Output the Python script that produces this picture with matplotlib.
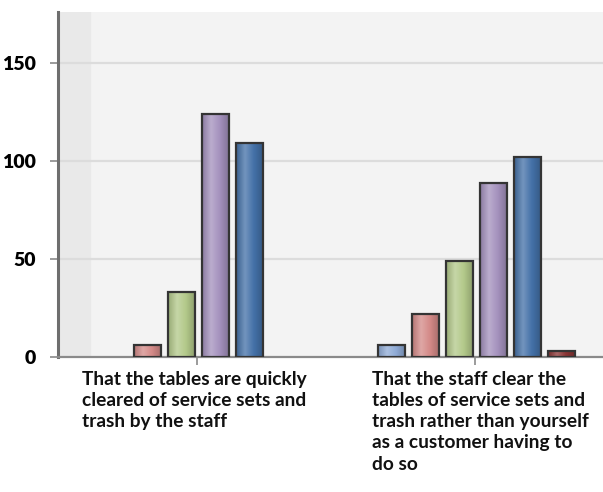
import matplotlib
matplotlib.use("Agg")
import matplotlib.pyplot as plt
import numpy as np
from matplotlib.colors import LinearSegmentedColormap, to_rgb

categories = [
    "That the tables are quickly\ncleared of service sets and\ntrash by the staff",
    "That the staff clear the\ntables of service sets and\ntrash rather than yourself\nas a customer having to\ndo so",
]
series_names = ["S1", "S2", "S3", "S4", "S5", "S6"]
series_values = [
    [0, 6],      # light blue
    [6, 22],     # red
    [33, 49],    # green
    [124, 89],   # purple
    [109, 102],  # dark blue
    [0, 3],      # dark red
]
series_colors = ["#8fabd6", "#d48a88", "#b3c98a", "#a491bd", "#4471a8", "#8a3434"]
yticks = [0, 50, 100, 150]

plt.rcParams['font.family'] = ['Lato', 'DejaVu Sans']

fig = plt.figure(figsize=(6.03, 4.92), dpi=100)
ax = fig.add_axes([58/603, (492-357)/492, 556/603, (357-12)/492])

ax.set_facecolor("#f3f3f3")
ax.axvspan(-0.5, -0.385, color="#e9e9e9", zorder=0)

for y in yticks[1:]:
    ax.axhline(y, color="#dcdcdc", lw=1.6, zorder=1)

n = len(series_values)
pitch = 0.122
width = 0.097
x = np.arange(len(categories))

def lighten(c, f):
    r = np.array(to_rgb(c))
    return tuple(r + (1 - r) * f)

def darken(c, f):
    r = np.array(to_rgb(c))
    return tuple(r * (1 - f))

for i, (vals, col) in enumerate(zip(series_values, series_colors)):
    pos = x + (i - (n - 1) / 2) * pitch + 0.005
    bars = ax.bar(pos, vals, width=width, color=col, linewidth=0, zorder=3)
    cmap = LinearSegmentedColormap.from_list(
        "g", [darken(col, 0.15), lighten(col, 0.25), col, darken(col, 0.2)])
    grad = np.linspace(0, 1, 64).reshape(1, -1)
    for b in bars:
        h = b.get_height()
        if h <= 0:
            continue
        x0 = b.get_x()
        im = ax.imshow(grad, cmap=cmap, aspect="auto",
                       extent=[x0, x0 + b.get_width(), 0, h], zorder=3.5,
                       interpolation="bicubic")
        im.set_clip_path(b)
        ax.bar(b.get_x() + b.get_width() / 2, h, width=b.get_width(),
               fill=False, edgecolor="#343434", linewidth=1.6, zorder=4)

ax.set_xlim(-0.5, len(categories) - 0.5)
ax.set_ylim(0, 176)

for s in ["top", "right"]:
    ax.spines[s].set_visible(False)
ax.spines["left"].set_color("#6e6e6e")
ax.spines["left"].set_linewidth(2.2)
ax.spines["bottom"].set_color("#8a8a8a")
ax.spines["bottom"].set_linewidth(1.6)

ax.set_yticks(yticks)
ax.set_yticklabels([str(v) for v in yticks], fontsize=14, fontweight="heavy")
ax.tick_params(axis="y", length=6, width=1.2, color="#8a8a8a", pad=10)
ax.set_xticks(x)
ax.set_xticklabels([])
ax.tick_params(axis="x", length=6, width=1.2, color="#8a8a8a")

label_offsets = [-0.414, -0.37]
for xi, lab, off in zip(x, categories, label_offsets):
    ax.text(xi + off, -0.04, lab, transform=ax.get_xaxis_transform(),
            ha="left", va="top", fontsize=13.8, fontweight="bold",
            linespacing=1.3, color="#111111")

fig.savefig("out.png", dpi=100)
